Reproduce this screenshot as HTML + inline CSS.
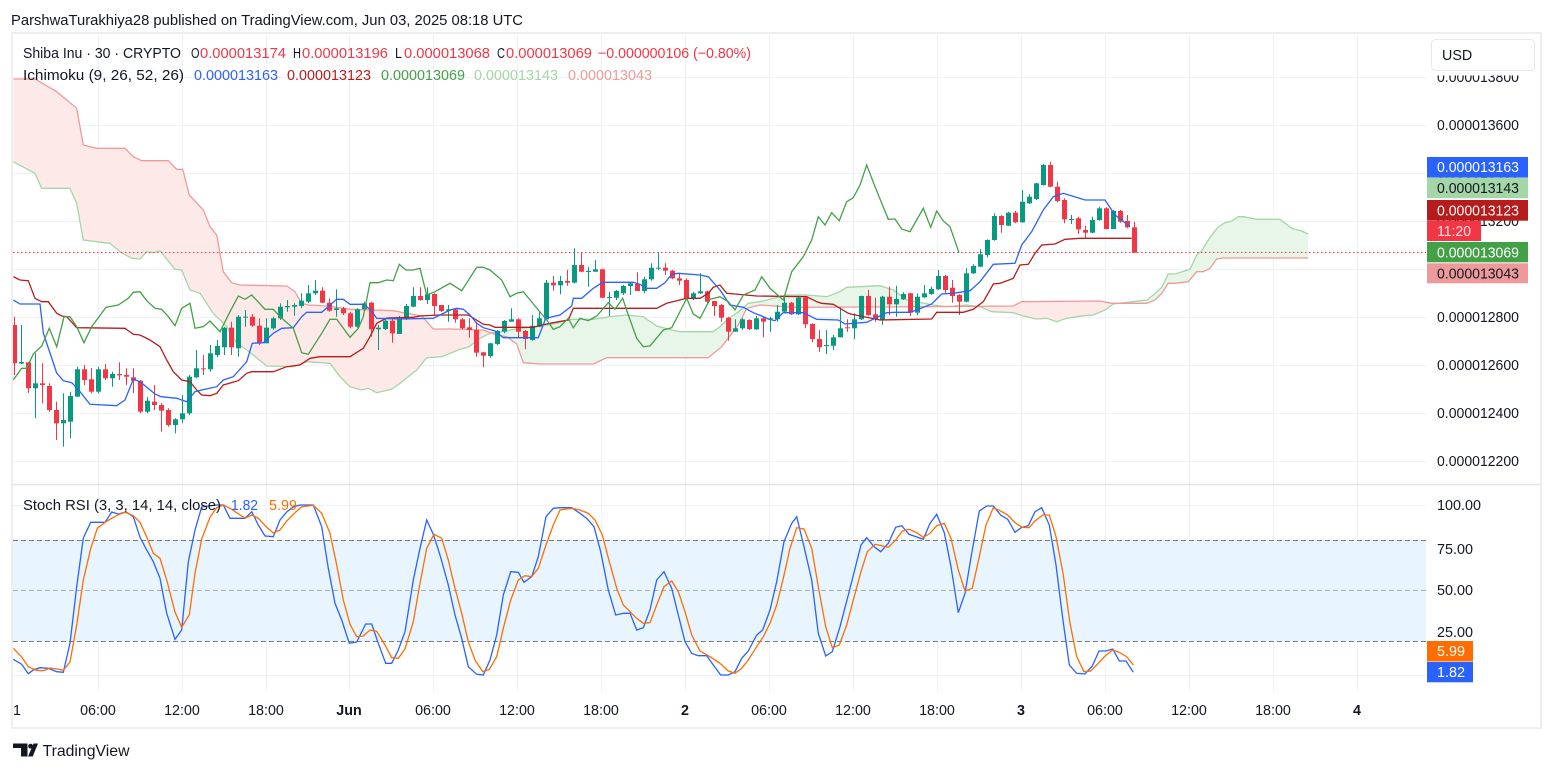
<!DOCTYPE html>
<html><head><meta charset="utf-8"><style>
html,body{margin:0;padding:0;background:#fff;}
svg{display:block;font-family:"Liberation Sans",Arial,sans-serif;}
</style></head><body>
<svg width="1554" height="772" viewBox="0 0 1554 772" xmlns="http://www.w3.org/2000/svg">
<defs>
<clipPath id="mc"><rect x="13" y="35" width="1413" height="449"/></clipPath>
<clipPath id="sc"><rect x="13" y="485" width="1413" height="207"/></clipPath>
<clipPath id="tc"><rect x="13" y="692" width="1413" height="35"/></clipPath>
<clipPath id="aBelow"><polygon points="13.3,161.7 35,173.3 41.7,188.3 70,188.3 76.7,203.3 83.3,240 96.7,241.7 110,243.3 120,251.7 131.7,258.3 140,259 146.7,251.7 153.3,252.7 160,250.7 175,269.3 181.7,270 190,290 200,293.3 213.3,313.3 226.7,326.7 236.7,343.3 246.7,350 253.3,355 266.7,366 293.3,366.7 306.7,361.7 320,362.7 330,363.3 340,376.7 350,386.7 361.7,390 368.3,388.3 376.7,392.7 391.7,389.3 400,383.3 416.7,370 426.7,357.7 441.7,356.7 460,349.3 468.3,347.3 480,338.3 490,333.3 500,331.7 520,328.3 536.7,326.7 556.7,323.3 570,319.3 593.3,319.3 610,316.7 626.7,315 643.3,316.7 656.7,326 671.7,330 680,331.7 713.3,331.7 720,326.7 726.7,320 740,310.7 748.3,303.3 763.3,301 770,299.3 786.7,295 806.7,295 826.7,296.7 840,291.7 846.7,287.3 860,286.7 880,285.7 893.3,290 906.7,300 933.3,305 946.7,306.7 966.7,305 980,306.7 991.7,311.7 1013.3,312.7 1023.3,316 1036.7,319 1046.7,318.3 1056.7,321.7 1066.7,318.3 1083.3,315.7 1093.3,315 1105,310 1113.3,304 1146.7,300 1153.3,295 1161.7,287.3 1168.3,274 1175,274 1190,269.3 1196.7,255 1201.7,250.7 1210,237.3 1218.3,226.7 1225,222.7 1231.7,221 1238.3,216.7 1243.3,216.7 1256.7,219.3 1280,219.3 1291.7,228.3 1301.7,231 1308.3,234 1308.3,600 13.3,600"/></clipPath>
<clipPath id="bBelow"><polygon points="13.3,79 35,79 56.7,91.7 76.7,108.3 83.3,145 96.7,148.3 125,148.3 133.3,156.7 141.7,160.7 168.3,160.7 176.7,169.3 182.7,169.3 189.3,195 203.3,210 210,226.7 216.7,235 223.3,271.7 231.7,282.7 240,285 286.7,286 295,291.7 301.7,303.3 308.3,305 328.3,306 350,309.3 393.3,310.7 400,312 421.7,316 433.3,329 450,329 483.3,330 496.7,335 506.7,336.7 516.7,344 523.3,362.7 540,364 593.3,364 606.7,357.7 708.3,357.7 721.7,346.7 738.3,325 746.7,308.3 760,305 793.3,307.3 926.7,306.7 1013.3,306 1021.7,301.7 1100,301 1111.7,303.3 1146.7,303.3 1155,300 1161.7,293.3 1168.3,283.3 1175,283.3 1188.3,281.7 1196.7,271.7 1203.3,271.7 1210,268.3 1216.7,259 1223.3,258 1308.3,258 1308.3,600 13.3,600"/></clipPath>
</defs>

<!-- header -->
<text x="11" y="25" font-size="14.3" fill="#131722" textLength="512" lengthAdjust="spacingAndGlyphs">ParshwaTurakhiya28 published on TradingView.com, Jun 03, 2025 08:18 UTC</text>

<!-- frame -->
<rect x="12" y="33" width="1529" height="695" fill="none" stroke="#eceef2" stroke-width="2"/>

<!-- grid -->
<g stroke="#eef1f6" stroke-width="1">
<path d="M13 77.5H1426M13 125.5H1426M13 173.5H1426M13 221.5H1426M13 269.5H1426M13 317.5H1426M13 365.5H1426M13 413.5H1426M13 461.5H1426"/>
<path d="M13 505.5H1426M13 548.5H1426M13 632.5H1426M13 675.5H1426"/>
<path d="M98.5 35V692M182.5 35V692M266.5 35V692M349.5 35V692M433.5 35V692M517.5 35V692M601.5 35V692M685.5 35V692M769.5 35V692M853.5 35V692M937.5 35V692M1021.5 35V692M1105.5 35V692M1189.5 35V692M1273.5 35V692M1357.5 35V692"/>
</g>
<path d="M12 484.5H1541" stroke="#e0e3eb" stroke-width="1.5"/>

<!-- main pane -->
<g clip-path="url(#mc)">
<g clip-path="url(#aBelow)"><polygon fill="#e8f5e9" points="13.3,79 35,79 56.7,91.7 76.7,108.3 83.3,145 96.7,148.3 125,148.3 133.3,156.7 141.7,160.7 168.3,160.7 176.7,169.3 182.7,169.3 189.3,195 203.3,210 210,226.7 216.7,235 223.3,271.7 231.7,282.7 240,285 286.7,286 295,291.7 301.7,303.3 308.3,305 328.3,306 350,309.3 393.3,310.7 400,312 421.7,316 433.3,329 450,329 483.3,330 496.7,335 506.7,336.7 516.7,344 523.3,362.7 540,364 593.3,364 606.7,357.7 708.3,357.7 721.7,346.7 738.3,325 746.7,308.3 760,305 793.3,307.3 926.7,306.7 1013.3,306 1021.7,301.7 1100,301 1111.7,303.3 1146.7,303.3 1155,300 1161.7,293.3 1168.3,283.3 1175,283.3 1188.3,281.7 1196.7,271.7 1203.3,271.7 1210,268.3 1216.7,259 1223.3,258 1308.3,258 1308.3,0 13.3,0"/></g>
<g clip-path="url(#bBelow)"><polygon fill="#fde9e8" points="13.3,161.7 35,173.3 41.7,188.3 70,188.3 76.7,203.3 83.3,240 96.7,241.7 110,243.3 120,251.7 131.7,258.3 140,259 146.7,251.7 153.3,252.7 160,250.7 175,269.3 181.7,270 190,290 200,293.3 213.3,313.3 226.7,326.7 236.7,343.3 246.7,350 253.3,355 266.7,366 293.3,366.7 306.7,361.7 320,362.7 330,363.3 340,376.7 350,386.7 361.7,390 368.3,388.3 376.7,392.7 391.7,389.3 400,383.3 416.7,370 426.7,357.7 441.7,356.7 460,349.3 468.3,347.3 480,338.3 490,333.3 500,331.7 520,328.3 536.7,326.7 556.7,323.3 570,319.3 593.3,319.3 610,316.7 626.7,315 643.3,316.7 656.7,326 671.7,330 680,331.7 713.3,331.7 720,326.7 726.7,320 740,310.7 748.3,303.3 763.3,301 770,299.3 786.7,295 806.7,295 826.7,296.7 840,291.7 846.7,287.3 860,286.7 880,285.7 893.3,290 906.7,300 933.3,305 946.7,306.7 966.7,305 980,306.7 991.7,311.7 1013.3,312.7 1023.3,316 1036.7,319 1046.7,318.3 1056.7,321.7 1066.7,318.3 1083.3,315.7 1093.3,315 1105,310 1113.3,304 1146.7,300 1153.3,295 1161.7,287.3 1168.3,274 1175,274 1190,269.3 1196.7,255 1201.7,250.7 1210,237.3 1218.3,226.7 1225,222.7 1231.7,221 1238.3,216.7 1243.3,216.7 1256.7,219.3 1280,219.3 1291.7,228.3 1301.7,231 1308.3,234 1308.3,0 13.3,0"/></g>
<polyline fill="none" stroke="#a5d6a7" stroke-width="1.3" points="13.3,161.7 35,173.3 41.7,188.3 70,188.3 76.7,203.3 83.3,240 96.7,241.7 110,243.3 120,251.7 131.7,258.3 140,259 146.7,251.7 153.3,252.7 160,250.7 175,269.3 181.7,270 190,290 200,293.3 213.3,313.3 226.7,326.7 236.7,343.3 246.7,350 253.3,355 266.7,366 293.3,366.7 306.7,361.7 320,362.7 330,363.3 340,376.7 350,386.7 361.7,390 368.3,388.3 376.7,392.7 391.7,389.3 400,383.3 416.7,370 426.7,357.7 441.7,356.7 460,349.3 468.3,347.3 480,338.3 490,333.3 500,331.7 520,328.3 536.7,326.7 556.7,323.3 570,319.3 593.3,319.3 610,316.7 626.7,315 643.3,316.7 656.7,326 671.7,330 680,331.7 713.3,331.7 720,326.7 726.7,320 740,310.7 748.3,303.3 763.3,301 770,299.3 786.7,295 806.7,295 826.7,296.7 840,291.7 846.7,287.3 860,286.7 880,285.7 893.3,290 906.7,300 933.3,305 946.7,306.7 966.7,305 980,306.7 991.7,311.7 1013.3,312.7 1023.3,316 1036.7,319 1046.7,318.3 1056.7,321.7 1066.7,318.3 1083.3,315.7 1093.3,315 1105,310 1113.3,304 1146.7,300 1153.3,295 1161.7,287.3 1168.3,274 1175,274 1190,269.3 1196.7,255 1201.7,250.7 1210,237.3 1218.3,226.7 1225,222.7 1231.7,221 1238.3,216.7 1243.3,216.7 1256.7,219.3 1280,219.3 1291.7,228.3 1301.7,231 1308.3,234"/>
<polyline fill="none" stroke="#ef9a9a" stroke-width="1.3" points="13.3,79 35,79 56.7,91.7 76.7,108.3 83.3,145 96.7,148.3 125,148.3 133.3,156.7 141.7,160.7 168.3,160.7 176.7,169.3 182.7,169.3 189.3,195 203.3,210 210,226.7 216.7,235 223.3,271.7 231.7,282.7 240,285 286.7,286 295,291.7 301.7,303.3 308.3,305 328.3,306 350,309.3 393.3,310.7 400,312 421.7,316 433.3,329 450,329 483.3,330 496.7,335 506.7,336.7 516.7,344 523.3,362.7 540,364 593.3,364 606.7,357.7 708.3,357.7 721.7,346.7 738.3,325 746.7,308.3 760,305 793.3,307.3 926.7,306.7 1013.3,306 1021.7,301.7 1100,301 1111.7,303.3 1146.7,303.3 1155,300 1161.7,293.3 1168.3,283.3 1175,283.3 1188.3,281.7 1196.7,271.7 1203.3,271.7 1210,268.3 1216.7,259 1223.3,258 1308.3,258"/>

<path d="M13 252.5H1426" stroke="#f23645" stroke-width="1" stroke-dasharray="1.5,2.5"/>

<path fill="none" stroke="#089981" stroke-width="1" d="M21.5 325V364M35.5 353.3V418.3M63.5 393.3V446.7M70.5 391.7V438.3M77.5 366.7V396.7M98.5 366.7V393.3M112.5 371.7V386.7M147.5 396.7V413.3M175.5 418.3V433.3M182.5 395V423.3M189.5 375V415M196.5 350V378.3M210.5 345V371.7M217.5 340V357.3M224.5 326.7V355M238.5 315V356.7M245.5 310V326.7M266.5 318.3V343.3M273.5 316.7V330M280.5 303.3V320M287.5 300V311.7M294.5 303.3V315.7M301.5 293.3V308.3M308.5 285V303.3M315.5 280V295M336.5 289.3V316.7M357.5 308.3V327.7M364.5 301.7V310M378.5 325V350M385.5 318V330M399.5 316V334M406.5 304V320M413.5 287.3V307.3M427.5 287.3V304M448.5 305V321.7M490.5 342.7V357.7M497.5 330V345M504.5 320V333.3M511.5 308.3V321.7M532.5 315V340.7M539.5 311.7V327.3M546.5 280V320M560.5 276V294.3M574.5 248.3V283.3M588.5 266.7V286.7M595.5 260V271.7M609.5 291.7V316M616.5 290V300M623.5 285V295M630.5 281.7V295M644.5 276.7V293.3M651.5 263.3V280.7M658.5 252.3V270M693.5 291.7V300M700.5 273.3V294M735.5 319.3V331.7M742.5 318.3V330M756.5 316V330M770.5 316.7V331.7M777.5 305V321.7M784.5 296.7V312.3M798.5 295.7V315M826.5 330V354M833.5 335V350M840.5 307.3V337.3M854.5 313.3V339.3M861.5 295.7V320M882.5 295.7V325M896.5 285.7V316.7M903.5 292.3V300M917.5 293.3V315M924.5 285V298.3M931.5 286.7V295M938.5 270V290M966.5 268.3V302.3M973.5 264.3V274M980.5 249.3V267.3M987.5 239.3V257.3M994.5 213.3V240.7M1008.5 211.7V226M1022.5 190V222.7M1029.5 194V204M1036.5 182.7V200M1043.5 164V185.7M1071.5 215V224M1092.5 216.7V233.3M1099.5 206.7V220.7M1113.5 210V229.3"/>
<g fill="#089981">
<rect x="19" y="362" width="5" height="1.5"/><rect x="33" y="383.3" width="5" height="5"/><rect x="61" y="420" width="5" height="3.3"/><rect x="68" y="396" width="5" height="25.7"/><rect x="75" y="369.3" width="5" height="27.4"/><rect x="96" y="369.3" width="5" height="22.4"/><rect x="110" y="374" width="5" height="4.3"/><rect x="145" y="400.7" width="5" height="11"/><rect x="173" y="419.3" width="5" height="5.7"/><rect x="180" y="413.3" width="5" height="6"/><rect x="187" y="376.7" width="5" height="36.6"/><rect x="194" y="368.3" width="5" height="9"/><rect x="208" y="353.3" width="5" height="16"/><rect x="215" y="346" width="5" height="9"/><rect x="222" y="327.7" width="5" height="19.6"/><rect x="236" y="316.7" width="5" height="31.6"/><rect x="243" y="316.7" width="5" height="1"/><rect x="264" y="327.7" width="5" height="15.6"/><rect x="271" y="318.3" width="5" height="10"/><rect x="278" y="306.7" width="5" height="11.6"/><rect x="285" y="306" width="5" height="1.3"/><rect x="292" y="305" width="5" height="1.7"/><rect x="299" y="300.7" width="5" height="5.3"/><rect x="306" y="293.3" width="5" height="8.4"/><rect x="313" y="290.7" width="5" height="2.6"/><rect x="334" y="308.3" width="5" height="1.7"/><rect x="355" y="309.3" width="5" height="17.4"/><rect x="362" y="303.3" width="5" height="6"/><rect x="376" y="327.7" width="5" height="1.6"/><rect x="383" y="320.7" width="5" height="8.3"/><rect x="397" y="318.3" width="5" height="15.7"/><rect x="404" y="306" width="5" height="13.3"/><rect x="411" y="296" width="5" height="10.7"/><rect x="425" y="294.3" width="5" height="5.7"/><rect x="446" y="309.3" width="5" height="1.4"/><rect x="488" y="343.3" width="5" height="12.7"/><rect x="495" y="331" width="5" height="13"/><rect x="502" y="321" width="5" height="10.7"/><rect x="509" y="319.3" width="5" height="2.4"/><rect x="530" y="325.7" width="5" height="14.3"/><rect x="537" y="318.3" width="5" height="8.4"/><rect x="544" y="282.7" width="5" height="36.6"/><rect x="558" y="281" width="5" height="4.3"/><rect x="572" y="265" width="5" height="17.7"/><rect x="586" y="271" width="5" height="1"/><rect x="593" y="269.3" width="5" height="2.4"/><rect x="607" y="297" width="5" height="1"/><rect x="614" y="291" width="5" height="6.7"/><rect x="621" y="286" width="5" height="7.3"/><rect x="628" y="283.3" width="5" height="2.7"/><rect x="642" y="279.3" width="5" height="11.7"/><rect x="649" y="267.7" width="5" height="11.6"/><rect x="656" y="267.7" width="5" height="1"/><rect x="691" y="293.3" width="5" height="5"/><rect x="698" y="291.3" width="5" height="2"/><rect x="733" y="328.3" width="5" height="3.4"/><rect x="740" y="319.3" width="5" height="9"/><rect x="754" y="318.3" width="5" height="11"/><rect x="768" y="318.3" width="5" height="1"/><rect x="775" y="311.7" width="5" height="7.6"/><rect x="782" y="302.7" width="5" height="9"/><rect x="796" y="297.7" width="5" height="16.6"/><rect x="824" y="345" width="5" height="1"/><rect x="831" y="337.3" width="5" height="8.4"/><rect x="838" y="328.3" width="5" height="9"/><rect x="852" y="319.3" width="5" height="9"/><rect x="859" y="296" width="5" height="23.3"/><rect x="880" y="296.7" width="5" height="23.3"/><rect x="894" y="299" width="5" height="5.3"/><rect x="901" y="294" width="5" height="5.3"/><rect x="915" y="296.7" width="5" height="16"/><rect x="922" y="293.3" width="5" height="4"/><rect x="929" y="289" width="5" height="5"/><rect x="936" y="276" width="5" height="13.3"/><rect x="964" y="273.3" width="5" height="28.4"/><rect x="971" y="266" width="5" height="7.3"/><rect x="978" y="254.3" width="5" height="12.4"/><rect x="985" y="240" width="5" height="15"/><rect x="992" y="216" width="5" height="24"/><rect x="1006" y="212.7" width="5" height="13"/><rect x="1020" y="201.7" width="5" height="20.6"/><rect x="1027" y="196.7" width="5" height="6.6"/><rect x="1034" y="183.3" width="5" height="15.7"/><rect x="1041" y="165" width="5" height="20"/><rect x="1069" y="219" width="5" height="1"/><rect x="1090" y="220" width="5" height="12.7"/><rect x="1097" y="208.3" width="5" height="11.7"/><rect x="1111" y="211" width="5" height="18"/>
</g>
<path fill="none" stroke="#f23645" stroke-width="1" d="M14.5 316.7V375M28.5 362V393M42.5 363.3V403.3M49.5 383.3V411.7M56.5 401.7V440M84.5 365V385M91.5 368.3V393.3M105.5 364V380M119.5 362.3V380M126.5 368.3V385M133.5 368.3V393.3M140.5 380V413.3M154.5 385V410M161.5 403.3V431.7M168.5 408.3V426.7M203.5 355V375M231.5 321.7V355M252.5 314V326.7M259.5 318.3V345M322.5 287.3V303.3M329.5 298.3V311.7M343.5 306.7V315M350.5 311.7V328.3M371.5 301.7V336.7M392.5 319V342.7M420.5 287.3V300.7M434.5 293.3V316M441.5 305V312M455.5 308.3V322.7M462.5 318V329M469.5 318.3V337.7M476.5 321.7V356.7M483.5 351.7V367.3M518.5 318.3V338.3M525.5 330V349.3M553.5 276V290.7M567.5 270V285.7M581.5 252.7V272.3M602.5 268.7V298.3M637.5 272.3V291M665.5 263.3V275M672.5 270V279.3M679.5 273.3V285M686.5 278.3V300M707.5 290.7V303.3M714.5 300.7V316M721.5 304V321.7M728.5 316.7V340.7M749.5 319.3V330M763.5 317.3V337.3M791.5 301.7V315M805.5 295.7V328.3M812.5 323.3V342.3M819.5 330V351.7M847.5 319.3V331.7M868.5 290V315.7M875.5 297.7V321.7M889.5 286.7V315M910.5 292.7V316M945.5 275V294M952.5 280V302.7M959.5 294.3V315M1001.5 215V232.7M1015.5 211V223.3M1050.5 161.7V187.3M1057.5 181.7V202.3M1064.5 198.3V223.3M1078.5 216.7V234M1085.5 225.7V238.3M1106.5 207.3V229.3M1120.5 210V222.7M1127.5 215V228.3M1134.5 221.7V252.7"/>
<g fill="#f23645">
<rect x="12" y="325" width="5" height="38.3"/><rect x="26" y="362.3" width="5" height="26"/><rect x="40" y="383.3" width="5" height="1.7"/><rect x="47" y="386" width="5" height="24"/><rect x="54" y="410" width="5" height="13.3"/><rect x="82" y="369.3" width="5" height="10.7"/><rect x="89" y="379.3" width="5" height="12.4"/><rect x="103" y="369.3" width="5" height="9"/><rect x="117" y="374" width="5" height="1.3"/><rect x="124" y="375" width="5" height="1.7"/><rect x="131" y="377.3" width="5" height="3.4"/><rect x="138" y="380.7" width="5" height="31"/><rect x="152" y="401.7" width="5" height="3.3"/><rect x="159" y="405" width="5" height="5.7"/><rect x="166" y="410" width="5" height="15"/><rect x="201" y="368.3" width="5" height="1"/><rect x="229" y="327.7" width="5" height="19.6"/><rect x="250" y="316.7" width="5" height="9"/><rect x="257" y="325.7" width="5" height="17.6"/><rect x="320" y="290.7" width="5" height="12"/><rect x="327" y="302.7" width="5" height="8"/><rect x="341" y="308.3" width="5" height="5"/><rect x="348" y="313.3" width="5" height="13.4"/><rect x="369" y="302.7" width="5" height="26.6"/><rect x="390" y="320.7" width="5" height="12.6"/><rect x="418" y="296" width="5" height="4"/><rect x="432" y="294" width="5" height="12"/><rect x="439" y="305" width="5" height="6"/><rect x="453" y="309.3" width="5" height="10"/><rect x="460" y="319.3" width="5" height="9"/><rect x="467" y="327.3" width="5" height="2.7"/><rect x="474" y="330" width="5" height="22.7"/><rect x="481" y="352.3" width="5" height="3.4"/><rect x="516" y="319.3" width="5" height="12.4"/><rect x="523" y="331" width="5" height="8"/><rect x="551" y="282.7" width="5" height="2.6"/><rect x="565" y="281" width="5" height="1.7"/><rect x="579" y="265" width="5" height="6.7"/><rect x="600" y="269.3" width="5" height="28.4"/><rect x="635" y="284" width="5" height="7"/><rect x="663" y="267.7" width="5" height="3"/><rect x="670" y="270.7" width="5" height="7.6"/><rect x="677" y="278.3" width="5" height="2.4"/><rect x="684" y="280" width="5" height="18.3"/><rect x="705" y="291.3" width="5" height="10.4"/><rect x="712" y="301" width="5" height="5"/><rect x="719" y="305" width="5" height="12.7"/><rect x="726" y="317.7" width="5" height="14"/><rect x="747" y="320" width="5" height="9"/><rect x="761" y="318.3" width="5" height="3.4"/><rect x="789" y="302.7" width="5" height="11.6"/><rect x="803" y="297.7" width="5" height="26.6"/><rect x="810" y="324" width="5" height="15"/><rect x="817" y="339" width="5" height="8.3"/><rect x="845" y="327.3" width="5" height="1"/><rect x="866" y="296" width="5" height="19"/><rect x="873" y="314.3" width="5" height="5"/><rect x="887" y="296.7" width="5" height="7.6"/><rect x="908" y="293.3" width="5" height="19.4"/><rect x="943" y="276" width="5" height="14"/><rect x="950" y="287.7" width="5" height="8.3"/><rect x="957" y="295" width="5" height="6.7"/><rect x="999" y="216" width="5" height="9"/><rect x="1013" y="212.7" width="5" height="9.6"/><rect x="1048" y="165" width="5" height="21.7"/><rect x="1055" y="186.7" width="5" height="14.3"/><rect x="1062" y="200" width="5" height="19.3"/><rect x="1076" y="218.3" width="5" height="11"/><rect x="1083" y="230" width="5" height="2.7"/><rect x="1104" y="208.3" width="5" height="20.7"/><rect x="1118" y="211" width="5" height="10.7"/><rect x="1125" y="221" width="5" height="6.3"/><rect x="1132" y="227.3" width="5" height="25.4"/>
</g>

<polyline fill="none" stroke="#b71c1c" stroke-width="1.3" points="13.3,276.7 20,280 28.3,280.7 35,298.3 41.7,301.7 48.3,301.7 56.7,313.3 61.7,316 66.7,316.7 76.7,327.7 125,328.3 133.3,334.3 140,335 150,340 160,346.7 166.7,360 173.3,371.7 181.7,380 190,381.7 196.7,390 201.7,395 210,395.7 216.7,393.3 223.3,385 238.3,380.7 246.7,373.3 251.7,371.7 273.3,371.7 286.7,366.7 300,365 310,358.3 320,356.7 350,356.7 363.3,348.3 370,336.7 376.7,323.3 386.7,318 413.3,317.3 420,316 440,315 468.3,315 483.3,324.3 490,325 495,327.3 533.3,327.3 541.7,325 553.3,322.7 568.3,320 573.3,308.3 656.7,308.3 666.7,303.3 686.7,298.3 700,298.3 708.3,293.3 713.3,287.3 720,285 726.7,293.3 756.7,296 806.7,296.7 816.7,301.7 821.7,303.3 833.3,304.3 840,308.3 848.3,313.3 851.7,314.3 880,320 931.7,319 936.7,312.3 963.3,312.3 973.3,309.3 983.3,301.7 993.3,284 1000,283.3 1013.3,278.3 1020,265 1028.3,264.3 1035,253.3 1041.7,245 1055,244 1065,239.3 1080,238.3 1131.7,238.3"/>
<polyline fill="none" stroke="#2962ff" stroke-width="1.3" points="13.3,300 20,304 40,304 43.3,333 50,353 56.7,373 63.3,380.7 71.7,382.7 77.3,388.3 90,404.3 116.7,405.7 125,400 133.3,379.3 140,381.7 155,394 161,396.7 176.7,398.3 186.7,401.7 195,391.7 201.7,390 216.7,386.7 223.3,380 233.3,376.7 239.3,370 246.7,361.7 252.3,343.3 263.3,342.7 273.3,333.3 281.7,328.3 293.3,327.7 301.7,316.7 306.7,312.3 321.7,312.3 336.7,299.3 343.3,299.3 350,304.3 363.3,304.3 370,309.3 376.7,318.3 400,319 433.3,318.3 450,310 456.7,308.3 463.3,309.3 470,315 476.7,323.3 483.3,327.7 495,331 503.3,337.7 538.3,337.7 545.7,318.3 560,315 571.7,306 573.3,298.3 581.7,298.3 593.3,288.3 602.7,282.3 633.3,282.3 640,284.3 646.7,288.3 656.7,288.3 665,282.7 671.7,274.3 678.3,273.3 700,275 708.3,276.7 720,290 730,305 743.3,307.3 753.3,312.7 761.7,316 768.3,319 775,320.7 783.3,312.7 803.3,312.7 816.7,319.3 838.3,320 845,324 866.7,322.3 886.7,312.7 895,312.3 910,312.3 916.7,310 931.7,304 941.7,294 953.3,293.3 970,290.7 980,281.7 993.3,264.3 1015,263.3 1021.7,245 1031.7,231.7 1043.3,210 1053.3,196.7 1063.3,193.3 1085,200 1105,200 1115,215 1121.7,220 1130,226.7"/>
<polyline fill="none" stroke="#43a047" stroke-width="1.3" points="13.3,380 21.7,368.3 26.7,368.3 33.3,354 41.7,346 49.3,328.3 56.7,346.7 64,316.7 70,316.7 76.7,326.7 84,342.7 91.7,326.7 106,307.3 118.3,305 128.3,298.3 133.3,292.3 140,291.7 146.7,300.7 155,308.3 161.7,309.3 168.3,316.7 175,325.7 181.7,308.3 190,303.3 195,328.3 203.3,326.7 210,321 220,331.7 230,311.7 238.3,296 245,299.3 251.7,295 265,309.3 273.3,309.3 280,316.7 293.3,328.3 301.7,352.7 308.3,354.3 321.7,333.3 330,319.3 336.7,319.3 350,337.3 358.3,328.3 363.3,316.7 370,282.7 378.3,282.7 386.7,280 393.3,280.7 399.3,264.3 406,270 413.3,270 420,268.3 426.7,295 435,291.7 450,283.3 461.7,290.7 476.7,267.3 483.3,267.3 490,270 501.7,280 510,296.7 516.7,293.3 523.3,291.7 538.3,310 546.7,320 553.3,329.3 560,326.7 568.3,318.3 573.3,327.7 580,318.3 588.3,320.7 596.7,316 608.3,302.7 615,309.3 622.7,298.3 628.3,315 636.7,338.3 643.3,346.7 650,346 663.3,330 671.7,327.7 678.3,315 686.7,298.3 693.3,314 700,318.3 710,299.3 720,296.7 728.3,301.7 735,310 743.3,295 755,290 761.7,276.7 770,288.3 783.3,300 791.7,271.7 803.3,256.7 811.7,240 818.3,216.7 825,225 831.7,212.7 839.3,220.7 846.7,201.7 853.3,197.7 860,185 866.7,165 875,186.7 888.3,219.3 895,219 901.7,229 910,231.7 923.3,208.3 930.7,227.3 936.7,211 943.3,221 950,226.7 959,252.7"/>
</g>

<!-- legend -->
<g font-size="14.3" fill="#131722">
<text x="23" y="58" textLength="158" lengthAdjust="spacingAndGlyphs">Shiba Inu · 30 · CRYPTO</text>
<text x="191" y="58" textLength="8.5" lengthAdjust="spacingAndGlyphs">O</text>
<text x="200" y="58" fill="#f23645" textLength="86" lengthAdjust="spacingAndGlyphs">0.000013174</text>
<text x="293" y="58" textLength="8" lengthAdjust="spacingAndGlyphs">H</text>
<text x="302" y="58" fill="#f23645" textLength="86" lengthAdjust="spacingAndGlyphs">0.000013196</text>
<text x="395" y="58" textLength="7" lengthAdjust="spacingAndGlyphs">L</text>
<text x="404" y="58" fill="#f23645" textLength="86" lengthAdjust="spacingAndGlyphs">0.000013068</text>
<text x="497" y="58" textLength="8" lengthAdjust="spacingAndGlyphs">C</text>
<text x="506" y="58" fill="#f23645" textLength="86" lengthAdjust="spacingAndGlyphs">0.000013069</text>
<text x="598" y="58" fill="#f23645" textLength="153" lengthAdjust="spacingAndGlyphs">−0.000000106 (−0.80%)</text>
<text x="23" y="80" textLength="161" lengthAdjust="spacingAndGlyphs">Ichimoku (9, 26, 52, 26)</text>
<text x="194" y="80" fill="#2962ff" textLength="84" lengthAdjust="spacingAndGlyphs">0.000013163</text>
<text x="287" y="80" fill="#b71c1c" textLength="84" lengthAdjust="spacingAndGlyphs">0.000013123</text>
<text x="381" y="80" fill="#43a047" textLength="84" lengthAdjust="spacingAndGlyphs">0.000013069</text>
<text x="474" y="80" fill="#a5d6a7" textLength="84" lengthAdjust="spacingAndGlyphs">0.000013143</text>
<text x="568" y="80" fill="#ef9a9a" textLength="84" lengthAdjust="spacingAndGlyphs">0.000013043</text>
</g>

<!-- stoch pane -->
<rect x="13" y="540" width="1413" height="101" fill="#e8f4fe"/>
<path d="M13 540.5H1426M13 641.5H1426" stroke="#787b86" stroke-width="1" stroke-dasharray="5,3"/>
<path d="M13 590.5H1426" stroke="#a9acb4" stroke-width="1" stroke-dasharray="5,3"/>
<g clip-path="url(#sc)">
<polyline fill="none" stroke="#2962ff" stroke-width="1.3" points="13.3,659.3 21.7,664.3 28.3,673.7 33.3,670 40,667.7 48.3,668.3 56.7,671.7 63.3,672.3 70,643.3 76.7,586.7 83.3,538 90.7,522.3 105,522.3 111.7,512 118.3,514 126,512 133.3,516.7 140,537.3 146.7,550 153.3,561.7 160,578.3 166.7,613.3 175,639.3 181.7,630 188.3,562 195,530 201.7,507 208.3,506 216.7,505 223.3,505 230,518.3 245,518.3 251.7,511.7 258.3,525 265,536 273.3,536.7 280,520 286.7,512 293.3,507 300,505 313.3,505 321.7,526.7 328.3,568.3 335,603.3 341.7,620 349.3,643.3 356.7,642 365.7,624 371.7,624 378.3,643.3 385.7,663.3 391.7,663.3 398.3,650 405,631.7 413.3,580 420,548.3 426.7,520 433.3,534.3 440,555 448.3,585 455,615 461.7,638.3 468.3,666.7 476.7,674.3 483.3,675 490,660 496.7,635 503.3,595 510.7,571.7 518.3,572.3 524,582.3 531.7,576.7 538.3,556.7 546,516.7 553.3,508.3 560,507.7 571.7,507.7 580,513.3 586.7,518.3 594,526.7 600.7,551.7 608.3,590 615.7,615 623.3,613.3 630,613.3 636.7,630 643.3,627.7 650,610 656.7,580 664,571.7 671.7,588.3 678.3,615 685,641.7 691.7,653.3 698.3,655.7 706.7,655.7 713.3,665 720.7,675 728.3,675 735,671.7 741.7,658.3 748.3,651 756.7,635 762.7,630 770,610 776.7,581.7 784,541.7 791.7,523.3 796.7,516.7 804,546.7 811.7,580 818.3,633.3 825.7,656 832.3,651.7 840,626.7 848.3,595 861,545 866.7,537.7 874,546.7 880.7,551.7 888.3,543.3 895.7,527.3 901.7,525.7 909,534.3 923.3,539.3 930,523.3 936.7,514.3 944.3,532.7 951,566.7 958.3,612.7 965,593.3 971.7,553.3 979.3,511 986.7,506 993.3,506 1000.7,515 1007.7,519.3 1015,532.3 1021.7,527.3 1028.3,525.7 1035,511.7 1041.7,507.7 1049.3,525 1056,565 1062.7,618.3 1069.3,665 1076.7,673.3 1085,674 1092.3,666 1099,651 1106,651 1112.7,649 1119.3,661 1126,661 1133.3,672.3"/>
<polyline fill="none" stroke="#ff6d00" stroke-width="1.3" points="13.3,648.3 21.7,657 28.3,666.7 36.7,670.3 43.3,670.7 50,668 56.7,669 63.3,670.3 70,662 76.7,625 83.3,580 90.7,548.7 97.3,528.3 105,522.3 111.7,518.3 118.3,514.7 125,512.3 133.3,515.7 140,522.3 146.7,537 153.3,553.3 160,558.3 166.7,580 175,612 181.7,627.3 189.3,614.7 195,573.3 201.7,539 210,517.3 216.7,507.7 223.3,505 231.7,509.3 245,518.3 251.7,515 258.3,518.3 266.7,527.3 273.3,533 280,530 286.7,521 295,512.7 301.7,506.7 313.3,505.3 321.7,513.3 330,533.3 336.7,565 343.3,600 350,624.3 356.7,636.7 363.3,636 370,630 376.7,631.3 385,645 391.7,657.7 398.3,658.3 405,649 413.3,621.7 420,583.3 426.7,548.3 434,534.3 441.7,538.3 448.3,560 455,588.3 461.7,613.3 468.3,641.7 475,660 482.7,671.7 489.3,669.3 496.7,656.7 503.3,628.3 510.7,600 518.3,580 525,575.7 531.7,576.7 538.3,568.3 546,545 553.3,525 560,510 571.7,508.3 580,510 588.3,513.3 595,520 602.3,535 609.3,561.7 616.7,588.3 623.3,605 630,611.7 636.7,618.3 643.3,623.3 650,622.7 656.7,605 664,586.7 671.7,581 678.3,591.7 685,611.7 691.7,635 700,651 710,656.7 720,663.3 728.3,671 735,673.3 741.7,668.3 748.3,660 756.7,646.7 763.3,636.7 770,623.3 776.7,605 783.3,578.3 790,548.3 796.7,527.7 804,529 811.7,548.3 818.3,586.7 825.7,626.7 832.3,647.7 839.3,645 846.7,625 853.3,600 861,571.7 867.3,551.7 875,544.3 881.7,545.7 888.3,547.3 895.7,540 902.3,531 909,529.3 916.7,532.7 923.3,537.3 930,533.3 936.7,525.7 944.3,523.3 951,538.3 958.3,570 965,591 972.3,588.3 979.3,556.7 986,525 993.3,507.7 1000,510.7 1007.7,515 1015,522.7 1022.3,527.3 1029,527.7 1035,521 1042.7,515 1049.3,515 1056,536.7 1063.3,575 1070,623.3 1076.7,656.7 1084,671.7 1090.7,671 1098.3,663.3 1105,656 1112.7,650 1119.3,652.3 1126.7,656.7 1133.3,665"/>
</g>
<g font-size="14.3">
<text x="23" y="510" fill="#131722" textLength="198" lengthAdjust="spacingAndGlyphs">Stoch RSI (3, 3, 14, 14, close)</text>
<text x="231" y="510" fill="#2962ff" textLength="27" lengthAdjust="spacingAndGlyphs">1.82</text>
<text x="269" y="510" fill="#ff6d00" textLength="28" lengthAdjust="spacingAndGlyphs">5.99</text>
</g>

<!-- price axis -->
<g font-size="14.3" fill="#131722">
<text x="1437" y="82" textLength="82" lengthAdjust="spacingAndGlyphs">0.000013800</text>
<text x="1437" y="130" textLength="82" lengthAdjust="spacingAndGlyphs">0.000013600</text>
<text x="1437" y="178" textLength="82" lengthAdjust="spacingAndGlyphs">0.000013400</text>
<text x="1437" y="226" textLength="82" lengthAdjust="spacingAndGlyphs">0.000013200</text>
<text x="1437" y="274" textLength="82" lengthAdjust="spacingAndGlyphs">0.000013000</text>
<text x="1437" y="322" textLength="82" lengthAdjust="spacingAndGlyphs">0.000012800</text>
<text x="1437" y="370" textLength="82" lengthAdjust="spacingAndGlyphs">0.000012600</text>
<text x="1437" y="418" textLength="82" lengthAdjust="spacingAndGlyphs">0.000012400</text>
<text x="1437" y="466" textLength="82" lengthAdjust="spacingAndGlyphs">0.000012200</text>
<text x="1437" y="510" textLength="44" lengthAdjust="spacingAndGlyphs">100.00</text>
<text x="1437" y="554" textLength="36" lengthAdjust="spacingAndGlyphs">75.00</text>
<text x="1437" y="595" textLength="36" lengthAdjust="spacingAndGlyphs">50.00</text>
<text x="1437" y="637" textLength="36" lengthAdjust="spacingAndGlyphs">25.00</text>
</g>
<rect x="1427" y="35" width="112" height="40.5" fill="#fff"/>
<rect x="1431.5" y="39.5" width="103" height="31" rx="4" fill="#fff" stroke="#e6e8ec" stroke-width="1"/>
<text x="1442" y="60" font-size="14.3" fill="#131722">USD</text>

<g font-size="14.3">
<rect x="1427" y="157" width="101" height="20.5" fill="#2962ff"/>
<text x="1437" y="172" fill="#fff" textLength="82" lengthAdjust="spacingAndGlyphs">0.000013163</text>
<rect x="1427" y="177.7" width="101" height="20.5" fill="#a5d6a7"/>
<text x="1437" y="193" fill="#131722" textLength="82" lengthAdjust="spacingAndGlyphs">0.000013143</text>
<rect x="1427" y="200" width="101" height="20.7" fill="#b71c1c"/>
<text x="1437" y="215.5" fill="#fff" textLength="82" lengthAdjust="spacingAndGlyphs">0.000013123</text>
<rect x="1427" y="221" width="54" height="20" fill="#f23645"/>
<text x="1437" y="236" fill="#fde2e4" textLength="34" lengthAdjust="spacingAndGlyphs">11:20</text>
<rect x="1427" y="242" width="101" height="20.3" fill="#43a047"/>
<text x="1437" y="257.5" fill="#fff" textLength="82" lengthAdjust="spacingAndGlyphs">0.000013069</text>
<rect x="1427" y="263.3" width="101" height="20" fill="#ef9a9a"/>
<text x="1437" y="278.5" fill="#131722" textLength="82" lengthAdjust="spacingAndGlyphs">0.000013043</text>
<rect x="1427" y="641" width="46" height="20.5" fill="#ff6d00"/>
<text x="1437" y="656" fill="#fff" textLength="28" lengthAdjust="spacingAndGlyphs">5.99</text>
<rect x="1427" y="662" width="46" height="20.3" fill="#2962ff"/>
<text x="1437" y="677" fill="#fff" textLength="28" lengthAdjust="spacingAndGlyphs">1.82</text>
</g>

<!-- time axis -->
<g font-size="14.3" fill="#131722" text-anchor="middle">
<text x="13" y="715" clip-path="url(#tc)">31</text>
<text x="98" y="715">06:00</text>
<text x="182" y="715">12:00</text>
<text x="266" y="715">18:00</text>
<text x="349" y="715" font-weight="bold">Jun</text>
<text x="433" y="715">06:00</text>
<text x="517" y="715">12:00</text>
<text x="601" y="715">18:00</text>
<text x="685" y="715" font-weight="bold">2</text>
<text x="769" y="715">06:00</text>
<text x="853" y="715">12:00</text>
<text x="937" y="715">18:00</text>
<text x="1021" y="715" font-weight="bold">3</text>
<text x="1105" y="715">06:00</text>
<text x="1189" y="715">12:00</text>
<text x="1273" y="715">18:00</text>
<text x="1357" y="715" font-weight="bold">4</text>
</g>

<!-- footer logo -->
<g fill="#131722">
<path d="M13 743.5h14.5v13h-6.5v-8.5h-8z"/>
<circle cx="30.6" cy="746.2" r="2.4"/>
<path d="M33.5 743.5h4.5l-5.3 13h-4.6z"/>
</g>
<text x="42.5" y="756" font-size="16" fill="#131722" textLength="87" lengthAdjust="spacingAndGlyphs">TradingView</text>
</svg>
</body></html>
